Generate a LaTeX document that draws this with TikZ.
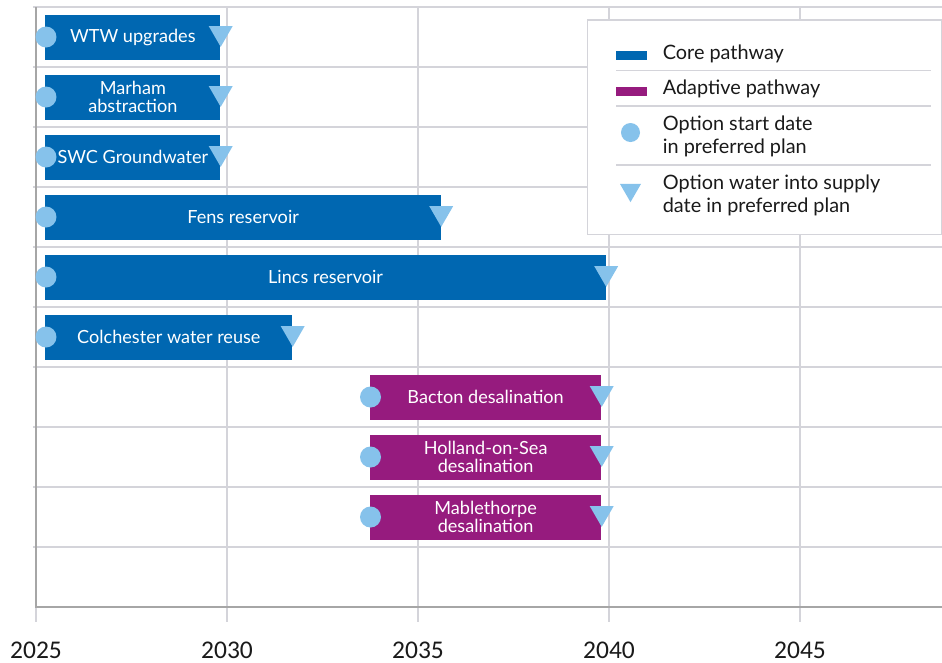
\documentclass[tikz,border=0pt]{standalone}
\usepackage{fontspec}
\setmainfont{Lato}
\newfontfamily\yearfont{Carlito}
\usetikzlibrary{positioning, calc, shapes.geometric}
\definecolor{CoreBlue}{HTML}{0067B1}
\definecolor{AdaptPurple}{HTML}{961B7E}
\definecolor{Marker}{HTML}{86C2EB}
\definecolor{GridGray}{HTML}{D4D4DA}
\definecolor{AxisGray}{HTML}{A6A6A6}
\definecolor{InkDark}{HTML}{1A1A1A}

\begin{document}
\begin{tikzpicture}[
    bar/.style={
        minimum height=0.9cm, inner sep=0pt, anchor=west,
        align=center, text=white, font=\fontsize{10.3}{10.2}\selectfont
    },
    core/.style={bar, fill=CoreBlue},
    adaptive/.style={bar, fill=AdaptPurple},
    start/.style={circle, fill=Marker, inner sep=0pt, minimum size=0.42cm},
    supply/.style={
        regular polygon, regular polygon sides=3, shape border rotate=180,
        fill=Marker, inner sep=0pt, minimum size=0.554cm
    },
    grid/.style={GridGray, line width=0.8pt},
    axis/.style={AxisGray, line width=1.5pt},
    swatch/.style={minimum width=0.61cm, minimum height=0.18cm, inner sep=0pt},
    keytxt/.style={anchor=west, align=left, text=InkDark, inner sep=0pt,
        font=\fontsize{11.3}{13}\selectfont},
    yearlbl/.style={text=InkDark, font=\yearfont\fontsize{14.5}{16}\selectfont}
]
\useasboundingbox (-0.72,0.14) rectangle (18.12,-13.1);

% =============================================
% GRID AND AXES
% =============================================
\foreach \r in {0,...,9}
    \draw[grid] (-0.06,-1.2*\r) -- (18.12,-1.2*\r);
\foreach \yr [count=\i from 0] in {2025,2030,2035,2040,2045} {
    \draw[grid] (3.82*\i,0) -- (3.82*\i,-12.3);
    \node[yearlbl] (y\yr) at (3.82*\i,-12.86) {\yr};
}
\draw[axis] (0,0) -- (0,-12) -- (18.12,-12);

% =============================================
% CORE PATHWAY
% =============================================
\node[core, minimum width=3.5cm] (wtw) at (0.18,-0.6) {WTW upgrades};
\node[core, minimum width=3.5cm] (marham) at (0.18,-1.8) {Marham\\abstraction};
\node[core, minimum width=3.5cm] (swc) at (0.18,-3.0) {SWC Groundwater};
\node[core, minimum width=7.91cm] (fens) at (0.18,-4.2) {Fens reservoir};
\node[core, minimum width=11.21cm] (lincs) at (0.18,-5.4) {Lincs reservoir};
\node[core, minimum width=4.94cm] (colch) at (0.18,-6.6) {Colchester water reuse};

% =============================================
% ADAPTIVE PATHWAY
% =============================================
\node[adaptive, minimum width=4.63cm] (bacton) at (6.67,-7.8) {Bacton desalination};
\node[adaptive, minimum width=4.63cm] (holland) at (6.67,-9.0) {Holland-on-Sea\\desalination};
\node[adaptive, minimum width=4.63cm] (mable) at (6.67,-10.2) {Mablethorpe\\desalination};

% start dots and supply markers
\foreach \opt in {wtw,marham,swc,fens,lincs,colch,bacton,holland,mable} {
    \node[start] (\opt-start) at ([xshift=0.02cm]\opt.west) {};
    \node[supply] (\opt-supply) at ([yshift=0.08cm]\opt.east) {};
}

% =============================================
% LEGEND
% =============================================
\node[draw=GridGray, fill=white, line width=0.8pt, anchor=north west,
    minimum width=7.09cm, minimum height=4.29cm, inner sep=0pt]
    (legend) at (11.01,-0.246) {};

\node[swatch, fill=CoreBlue] (keycore) at ([xshift=0.895cm, yshift=-0.714cm]legend.north west) {};
\node[keytxt] (keycoretxt) at ([xshift=1.52cm, yshift=-0.694cm]legend.north west) {Core pathway};
\draw[grid] ([xshift=0.59cm, yshift=-1.024cm]legend.north west) -- ([xshift=6.89cm, yshift=-1.024cm]legend.north west);

\node[swatch, fill=AdaptPurple] (keyadapt) at ([xshift=0.895cm, yshift=-1.434cm]legend.north west) {};
\node[keytxt] (keyadapttxt) at ([xshift=1.52cm, yshift=-1.394cm]legend.north west) {Adaptive pathway};
\draw[grid] ([xshift=0.59cm, yshift=-1.734cm]legend.north west) -- ([xshift=6.89cm, yshift=-1.734cm]legend.north west);

\node[start, minimum size=0.38cm] (keystart) at ([xshift=0.88cm, yshift=-2.264cm]legend.north west) {};
\node[keytxt] (keystarttxt) at ([xshift=1.52cm, yshift=-2.344cm]legend.north west) {Option start date\\in preferred plan};
\draw[grid] ([xshift=0.59cm, yshift=-2.914cm]legend.north west) -- ([xshift=6.89cm, yshift=-2.914cm]legend.north west);

\node[supply, minimum size=0.485cm] (keysupply) at ([xshift=0.88cm, yshift=-3.414cm]legend.north west) {};
\node[keytxt] (keysupplytxt) at ([xshift=1.52cm, yshift=-3.514cm]legend.north west) {Option water into supply\\date in preferred plan};

\end{tikzpicture}
\end{document}
